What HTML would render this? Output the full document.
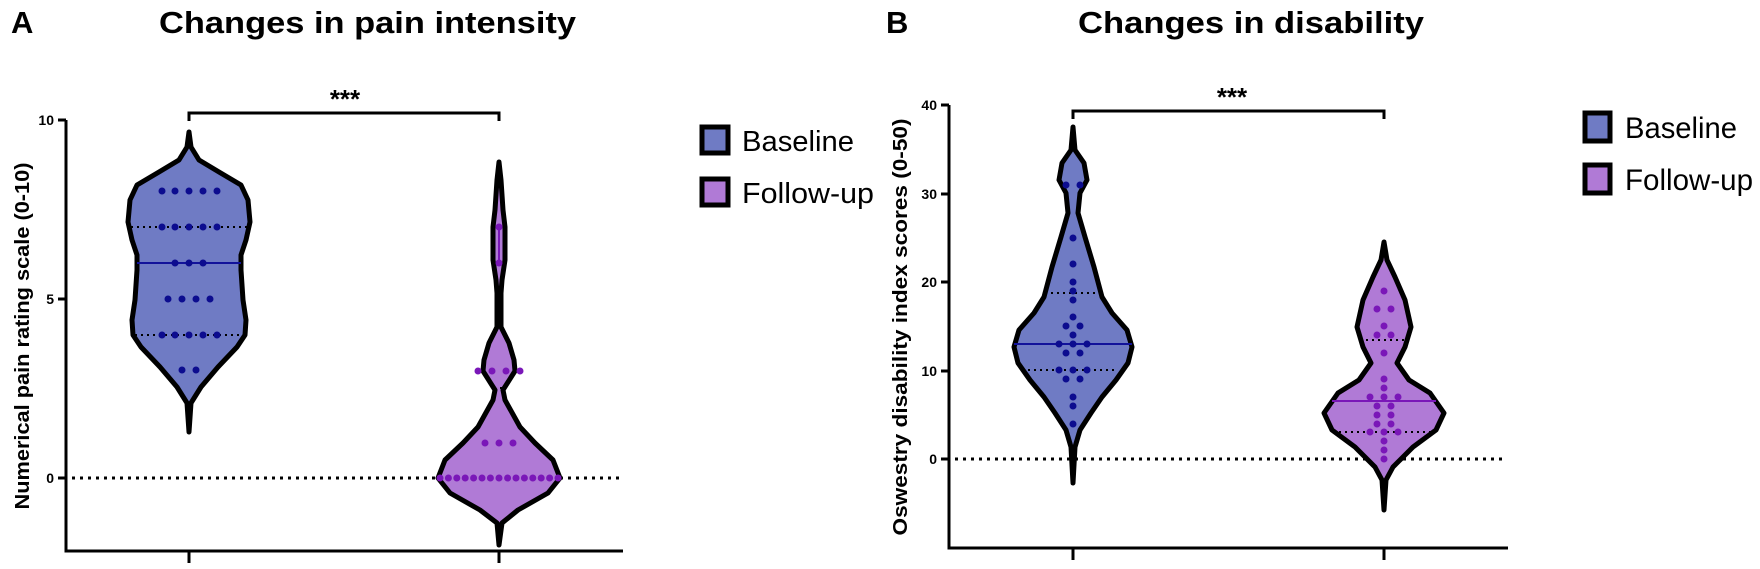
<!DOCTYPE html>
<html><head><meta charset="utf-8"><style>
html,body{margin:0;padding:0;background:#fff;}
svg{display:block;font-family:"Liberation Sans",Arial,sans-serif;}
</style></head><body>
<svg width="1760" height="569" viewBox="0 0 1760 569" xmlns="http://www.w3.org/2000/svg">
<!-- Titles -->
<text x="11" y="33" font-size="31" font-weight="bold">A</text>
<text x="159" y="33" font-size="31" font-weight="bold" textLength="417" lengthAdjust="spacingAndGlyphs">Changes in pain intensity</text>
<text x="886" y="33" font-size="31" font-weight="bold">B</text>
<text x="1078" y="33" font-size="31" font-weight="bold" textLength="346" lengthAdjust="spacingAndGlyphs">Changes in disability</text>

<!-- ===== Panel A ===== -->
<text transform="translate(29,336) rotate(-90)" font-size="20" font-weight="bold" text-anchor="middle" textLength="347" lengthAdjust="spacingAndGlyphs">Numerical pain rating scale (0-10)</text>
<g stroke="#000" stroke-width="3" fill="none">
<path d="M66,120 V551 H623"/>
<path d="M58,120 H66 M58,299 H66 M58,478 H66"/>
<path d="M189,551 V563 M499,551 V563"/>
<path d="M189,121 V113 H499 V121"/>
</g>
<g font-size="14" font-weight="bold" text-anchor="end">
<text x="54" y="125">10</text><text x="54" y="304">5</text><text x="54" y="483">0</text>
</g>
<text x="345" y="108" font-size="26" font-weight="bold" text-anchor="middle">***</text>
<line x1="72" y1="478" x2="621" y2="478" stroke="#000" stroke-width="3" stroke-dasharray="3,5"/>

<polygon fill="#6f7bc4" stroke="#000" stroke-width="5" stroke-linejoin="round" points="189,132 191,147 199,160 219,172 241,185 248,200 250,222 246,240 241,255 241,270 243,300 246,320 245,335 237,347 218,367 201,387 191,403 189,432 187,403 177,387 160,367 141,347 133,335 132,320 135,300 137,270 137,255 132,240 128,222 130,200 137,185 159,172 179,160 187,147"/>
<polygon fill="#b07ad6" stroke="#000" stroke-width="5" stroke-linejoin="round" points="499,162 501,180 503,210 505,227 505,260 502,280 501,293 501,327 509,343 514,360 515,371 503,390 505,400 520,427 535,443 553,460 560,478 548,493 518,510 502,523 499,545 497,523 480,510 450,493 438,478 445,460 463,443 478,427 493,400 495,390 483,371 484,360 489,343 497,327 497,293 496,280 493,260 493,227 495,210 497,180"/>
<g stroke="#000" stroke-width="2" stroke-dasharray="2,4">
<line x1="131" y1="227" x2="248" y2="227"/>
<line x1="135" y1="335" x2="243" y2="335"/>
<line x1="494" y1="388" x2="504" y2="388"/>
</g>
<line x1="137" y1="263" x2="241" y2="263" stroke="#12129a" stroke-width="2"/>
<line x1="499" y1="227" x2="499" y2="263" stroke="#7a17b8" stroke-width="2"/>
<g fill="#0c0c8f">
<circle cx="162" cy="191" r="3.5"/><circle cx="175" cy="191" r="3.5"/><circle cx="189" cy="191" r="3.5"/><circle cx="203" cy="191" r="3.5"/><circle cx="217" cy="191" r="3.5"/>
<circle cx="162" cy="227" r="3.5"/><circle cx="175" cy="227" r="3.5"/><circle cx="189" cy="227" r="3.5"/><circle cx="203" cy="227" r="3.5"/><circle cx="217" cy="227" r="3.5"/>
<circle cx="175" cy="263" r="3.5"/><circle cx="189" cy="263" r="3.5"/><circle cx="203" cy="263" r="3.5"/>
<circle cx="168" cy="299" r="3.5"/><circle cx="182" cy="299" r="3.5"/><circle cx="196" cy="299" r="3.5"/><circle cx="210" cy="299" r="3.5"/>
<circle cx="162" cy="335" r="3.5"/><circle cx="175" cy="335" r="3.5"/><circle cx="189" cy="335" r="3.5"/><circle cx="203" cy="335" r="3.5"/><circle cx="217" cy="335" r="3.5"/>
<circle cx="182" cy="370" r="3.5"/><circle cx="196" cy="370" r="3.5"/>
</g>
<g fill="#7a17b8">
<circle cx="499" cy="227" r="3.5"/><circle cx="499" cy="263" r="3.5"/>
<circle cx="478" cy="371" r="3.5"/><circle cx="492" cy="371" r="3.5"/><circle cx="506" cy="371" r="3.5"/><circle cx="520" cy="371" r="3.5"/>
<circle cx="485" cy="443" r="3.5"/><circle cx="499" cy="443" r="3.5"/><circle cx="513" cy="443" r="3.5"/>
<circle cx="440" cy="478" r="3.5"/><circle cx="448.4" cy="478" r="3.5"/><circle cx="456.8" cy="478" r="3.5"/><circle cx="465.2" cy="478" r="3.5"/><circle cx="473.6" cy="478" r="3.5"/><circle cx="482" cy="478" r="3.5"/><circle cx="490.4" cy="478" r="3.5"/><circle cx="499" cy="478" r="3.5"/><circle cx="507.6" cy="478" r="3.5"/><circle cx="516" cy="478" r="3.5"/><circle cx="524.4" cy="478" r="3.5"/><circle cx="532.8" cy="478" r="3.5"/><circle cx="541.2" cy="478" r="3.5"/><circle cx="549.6" cy="478" r="3.5"/><circle cx="558" cy="478" r="3.5"/>
</g>
<!-- Legend A -->
<rect x="702" y="127" width="26" height="26" fill="#6f7bc4" stroke="#000" stroke-width="5"/>
<rect x="702" y="179" width="26" height="26" fill="#b07ad6" stroke="#000" stroke-width="5"/>
<text x="742" y="151" font-size="29" textLength="112" lengthAdjust="spacingAndGlyphs">Baseline</text>
<text x="742" y="203" font-size="29" textLength="132" lengthAdjust="spacingAndGlyphs">Follow-up</text>

<!-- ===== Panel B ===== -->
<text transform="translate(907,327) rotate(-90)" font-size="20" font-weight="bold" text-anchor="middle" textLength="417" lengthAdjust="spacingAndGlyphs">Oswestry disability index scores (0-50)</text>
<g stroke="#000" stroke-width="3" fill="none">
<path d="M949,105 V548 H1508"/>
<path d="M941,105 H949 M941,194 H949 M941,282 H949 M941,371 H949 M941,459 H949"/>
<path d="M1073,548 V560 M1384,548 V560"/>
<path d="M1073,119 V111 H1384 V119"/>
</g>
<g font-size="14" font-weight="bold" text-anchor="end">
<text x="937" y="110">40</text><text x="937" y="199">30</text><text x="937" y="287">20</text><text x="937" y="376">10</text><text x="937" y="464">0</text>
</g>
<text x="1232" y="106" font-size="26" font-weight="bold" text-anchor="middle">***</text>
<line x1="955" y1="459" x2="1505" y2="459" stroke="#000" stroke-width="3" stroke-dasharray="3,5"/>

<polygon fill="#6f7bc4" stroke="#000" stroke-width="5" stroke-linejoin="round" points="1073,127 1075,150 1084,163 1087,180 1080,193 1078,213 1085,237 1094,267 1102,297 1112,313 1127,330 1132,347 1128,363 1116,380 1102,397 1091,413 1080,430 1075,447 1073,483 1071,447 1066,430 1055,413 1044,397 1030,380 1018,363 1014,347 1019,330 1034,313 1044,297 1052,267 1061,237 1068,213 1066,193 1059,180 1062,163 1071,150"/>
<polygon fill="#b07ad6" stroke="#000" stroke-width="5" stroke-linejoin="round" points="1384,242 1387,260 1395,277 1405,300 1411,327 1405,347 1397,363 1409,380 1430,393 1444,413 1436,430 1413,447 1393,467 1386,480 1384,510 1382,480 1375,467 1355,447 1332,430 1324,413 1338,393 1359,380 1371,363 1363,347 1357,327 1363,300 1373,277 1381,260"/>
<g stroke="#000" stroke-width="2" stroke-dasharray="2,4">
<line x1="1045" y1="293" x2="1101" y2="293"/>
<line x1="1028" y1="370" x2="1118" y2="370"/>
<line x1="1360" y1="340" x2="1408" y2="340"/>
<line x1="1333" y1="432" x2="1435" y2="432"/>
</g>
<line x1="1014" y1="344" x2="1132" y2="344" stroke="#12129a" stroke-width="2"/>
<line x1="1332" y1="401" x2="1436" y2="401" stroke="#7a17b8" stroke-width="2"/>
<g fill="#0c0c8f">
<circle cx="1066" cy="185" r="3.5"/><circle cx="1080" cy="185" r="3.5"/>
<circle cx="1073" cy="238" r="3.5"/><circle cx="1073" cy="264" r="3.5"/><circle cx="1073" cy="282" r="3.5"/><circle cx="1073" cy="291" r="3.5"/><circle cx="1073" cy="300" r="3.5"/><circle cx="1073" cy="317" r="3.5"/>
<circle cx="1066" cy="326" r="3.5"/><circle cx="1080" cy="326" r="3.5"/>
<circle cx="1073" cy="335" r="3.5"/>
<circle cx="1059" cy="344" r="3.5"/><circle cx="1073" cy="344" r="3.5"/><circle cx="1087" cy="344" r="3.5"/>
<circle cx="1066" cy="353" r="3.5"/><circle cx="1080" cy="353" r="3.5"/>
<circle cx="1059" cy="370" r="3.5"/><circle cx="1073" cy="370" r="3.5"/><circle cx="1087" cy="370" r="3.5"/>
<circle cx="1066" cy="379" r="3.5"/><circle cx="1080" cy="379" r="3.5"/>
<circle cx="1073" cy="397" r="3.5"/><circle cx="1073" cy="406" r="3.5"/><circle cx="1073" cy="424" r="3.5"/>
</g>
<g fill="#7a17b8">
<circle cx="1384" cy="291" r="3.5"/>
<circle cx="1377" cy="309" r="3.5"/><circle cx="1391" cy="309" r="3.5"/>
<circle cx="1384" cy="326" r="3.5"/>
<circle cx="1377" cy="335" r="3.5"/><circle cx="1391" cy="335" r="3.5"/>
<circle cx="1384" cy="353" r="3.5"/>
<circle cx="1384" cy="379" r="3.5"/><circle cx="1384" cy="388" r="3.5"/>
<circle cx="1370" cy="397" r="3.5"/><circle cx="1384" cy="397" r="3.5"/><circle cx="1398" cy="397" r="3.5"/>
<circle cx="1377" cy="406" r="3.5"/><circle cx="1391" cy="406" r="3.5"/>
<circle cx="1377" cy="415" r="3.5"/><circle cx="1391" cy="415" r="3.5"/>
<circle cx="1377" cy="424" r="3.5"/><circle cx="1391" cy="424" r="3.5"/>
<circle cx="1370" cy="432" r="3.5"/><circle cx="1384" cy="432" r="3.5"/><circle cx="1398" cy="432" r="3.5"/>
<circle cx="1384" cy="441" r="3.5"/><circle cx="1384" cy="450" r="3.5"/><circle cx="1384" cy="459" r="3.5"/>
</g>
<!-- Legend B -->
<rect x="1585" y="113" width="25" height="28" fill="#6f7bc4" stroke="#000" stroke-width="5"/>
<rect x="1585" y="165" width="25" height="28" fill="#b07ad6" stroke="#000" stroke-width="5"/>
<text x="1625" y="138" font-size="30" textLength="112" lengthAdjust="spacingAndGlyphs">Baseline</text>
<text x="1625" y="190" font-size="30" textLength="128" lengthAdjust="spacingAndGlyphs">Follow-up</text>
</svg>
</body></html>
